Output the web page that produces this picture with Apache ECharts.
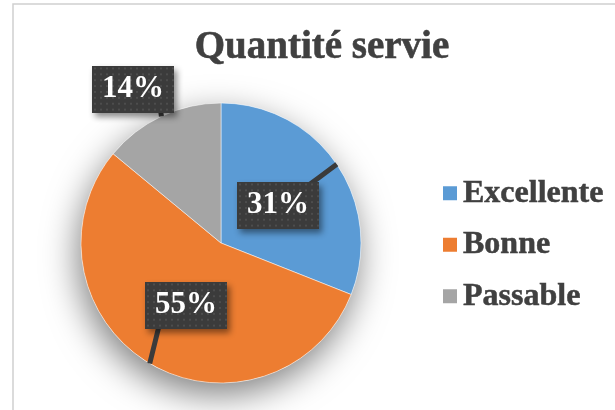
<!DOCTYPE html>
<html>
<head>
<meta charset="utf-8">
<script src="https://cdn.jsdelivr.net/npm/echarts@6/dist/echarts.min.js"></script>
<style>
  html, body { margin: 0; padding: 0; background: #fff; }
  #chart { width: 615px; height: 410px; }
</style>
</head>
<body>
<div id="chart"></div>
<script>
// données
var categories = ['Excellente', 'Bonne', 'Passable'];
var values = [31, 55, 14];
var colors = ['#5B9BD5', '#ED7D31', '#A5A5A5'];

// centre des étiquettes et base de la flèche (mise en page)
var labelPos = [[278, 205], [186, 305], [133, 89]];
var pointerBase = [[302, 190], [160, 322], [160, 106]];

// fond pointillé des étiquettes
function dotPattern() {
    var c = document.createElement('canvas');
    c.width = 82; c.height = 48;
    var ctx = c.getContext('2d');
    ctx.fillStyle = '#3b3b3b';
    ctx.fillRect(0, 0, c.width, c.height);
    ctx.fillStyle = '#4d4d4d';
    for (var x = 2; x < c.width; x += 6) {
        for (var y = 2; y < c.height; y += 6) {
            ctx.fillRect(x, y, 2, 2);
        }
    }
    return c;
}

var myChart = echarts.init(document.getElementById('chart'));
var total = values.reduce(function (a, b) { return a + b; }, 0);
var serif = '"Liberation Serif", "Times New Roman", serif';
var pieData = categories.map(function (n, i) { return { name: n, value: values[i] }; });

var option = {
    animation: false,
    color: colors,
    title: {
        text: 'Quantité servie',
        left: 317,
        textAlign: 'center',
        top: 23,
        textStyle: {
            fontFamily: serif, fontSize: 39, fontWeight: 'bold', color: '#404040',
            textBorderColor: '#404040', textBorderWidth: 0.6
        }
    },
    legend: {
        orient: 'vertical',
        left: 441,
        top: 177,
        padding: 0,
        itemWidth: 16,
        itemHeight: 16,
        itemGap: 19,
        icon: 'rect',
        textStyle: {
            fontFamily: serif, fontSize: 32, fontWeight: 'bold', color: '#404040', lineHeight: 32,
            textBorderColor: '#404040', textBorderWidth: 0.5
        },
        data: categories
    },
    graphic: [{
        type: 'rect',
        silent: true,
        shape: { x: 13, y: 4, width: 700, height: 500 },
        style: { fill: 'none', stroke: '#d0d0d0', lineWidth: 1.5 }
    }],
    series: [
        {
            // ombre sous le camembert
            type: 'pie',
            silent: true,
            center: [221, 243],
            radius: 140,
            z: 1,
            label: { show: false },
            labelLine: { show: false },
            itemStyle: { color: '#fff', shadowBlur: 35, shadowColor: 'rgba(0,0,0,0.5)', shadowOffsetY: 12, shadowOffsetX: -3 },
            data: [{ value: total, name: '' }]
        },
        {
            type: 'pie',
            name: 'Quantité servie',
            center: [221, 243],
            radius: 140,
            startAngle: 90,
            z: 2,
            itemStyle: { borderColor: '#fff', borderWidth: 0.5 },
            label: { show: false },
            labelLine: { show: false },
            data: pieData
        },
        {
            // étiquettes au-dessus des secteurs
            type: 'pie',
            silent: true,
            legendHoverLink: false,
            center: [221, 243],
            radius: 140,
            startAngle: 90,
            z: 3,
            itemStyle: { color: 'rgba(0,0,0,0)' },
            data: pieData,
            label: {
                show: true,
                formatter: '{d}%',
                color: '#fff',
                fontFamily: serif,
                fontSize: 31,
                fontWeight: 'bold',
                backgroundColor: { image: dotPattern() },
                padding: [9, 10, 7, 10],
                shadowBlur: 6,
                shadowColor: 'rgba(0,0,0,0.45)',
                shadowOffsetX: 3,
                shadowOffsetY: 4
            },
            labelLine: {
                show: true,
                lineStyle: { color: '#3b3b3b', width: 5 }
            },
            labelLayout: function (params) {
                var i = params.dataIndex;
                var p = labelPos[i], b = pointerBase[i];
                var edge = params.labelLinePoints ? params.labelLinePoints[0] : b;
                return {
                    x: p[0],
                    y: p[1],
                    align: 'center',
                    verticalAlign: 'middle',
                    labelLinePoints: [edge, [(edge[0] + b[0]) / 2, (edge[1] + b[1]) / 2], b]
                };
            }
        }
    ]
};
myChart.setOption(option);
</script>
</body>
</html>
